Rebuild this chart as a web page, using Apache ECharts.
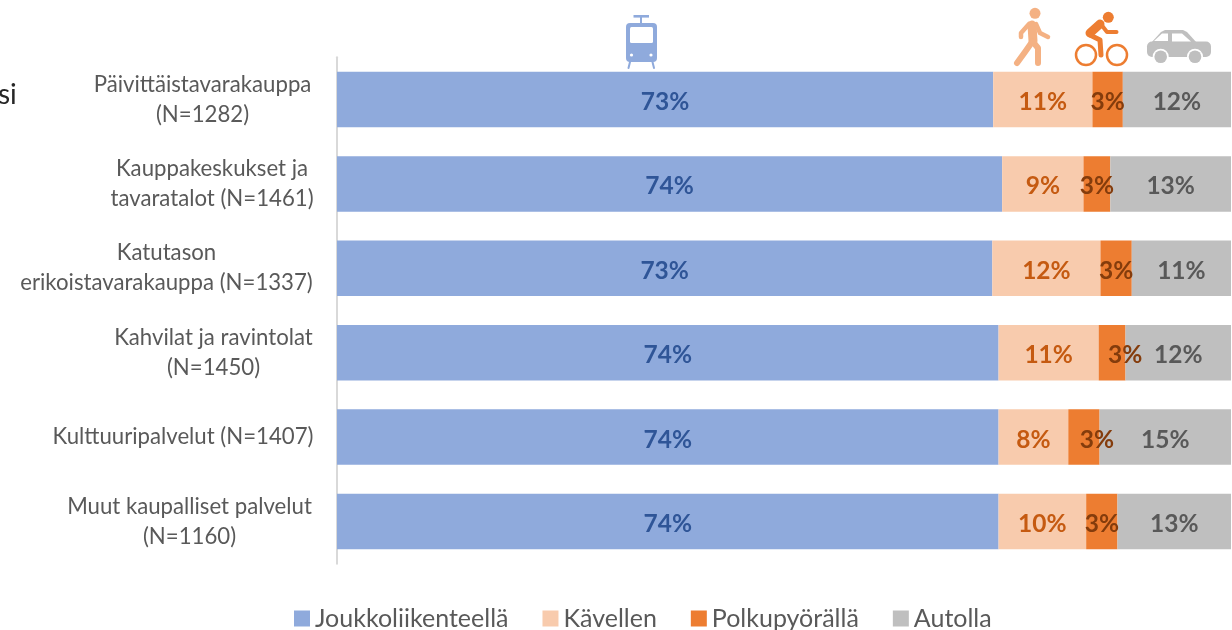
<!DOCTYPE html>
<html><head><meta charset="utf-8">
<style>html,body{margin:0;padding:0;background:#fff}#c{width:1232px;height:630px}</style>
<script src="https://cdn.jsdelivr.net/npm/echarts@6/dist/echarts.min.js"></script>
</head><body><div id="c"></div>
<script>
const categories = [
  "Päivittäistavarakauppa\n(N=1282)",
  "Kauppakeskukset ja\ntavaratalot (N=1461)",
  "Katutason\nerikoistavarakauppa (N=1337)",
  "Kahvilat ja ravintolat\n(N=1450)",
  "Kulttuuripalvelut (N=1407)",
  "Muut kaupalliset palvelut\n(N=1160)"
];
const seriesNames = ["Joukkoliikenteellä","Kävellen","Polkupyörällä","Autolla"];
const transit = [73.4,74.4,73.3,74.0,74.0,74.0];
const walking = [11.1,9.1,12.1,11.2,7.8,9.8];
const cycling = [3.4,3.0,3.5,3.0,3.5,3.5];
const driving = [12.1,13.5,11.1,11.8,14.7,12.7];
const transitLabels = ["73%","74%","73%","74%","74%","74%"];
const walkingLabels = ["11%","9%","12%","11%","8%","10%"];
const cyclingLabels = ["3%","3%","3%","3%","3%","3%"];
const drivingLabels = ["12%","13%","11%","12%","15%","13%"];

const FONT = "Lato";
const blockWidths = [221,202,293,199,260,247];
const rich = {};
blockWidths.forEach((w,i)=>{ rich['r'+i] = {width:w,align:'center',fontFamily:FONT,fontSize:22.2,lineHeight:30,color:'#595959'}; });

const cyclingOffsets = [0,0,0,13,13,0];
function mk(name,vals,labels,color,labelColor,offsets){
  return {
    name, type:'bar', stack:'t', barWidth:55.5, itemStyle:{color},
    data: vals.map((v,i)=>({
      value:v,
      label:{show:true,position:'inside',formatter:labels[i],color:labelColor,
             fontFamily:FONT,fontWeight:'bold',fontSize:24.5,
             offset:[offsets?offsets[i]:0,2.5]}
    }))
  };
}
const LW='#F4B183', OR='#ED7D31', GR='#BFBFBF', BL='#8FAADC';
function limb(points,color,w){return {type:'polyline',shape:{points},style:{stroke:color,lineWidth:w,fill:null,lineCap:'round',lineJoin:'round'}};}
const icons = [
  // tram
  {type:'rect',shape:{x:633.5,y:15,width:15.5,height:2.6},style:{fill:BL}},
  limb([[641,17],[641,23]],BL,2),
  {type:'rect',shape:{x:626,y:23,width:31,height:39,r:4},style:{fill:BL}},
  {type:'rect',shape:{x:630,y:27,width:23,height:16,r:1.5},style:{fill:'#fff'}},
  {type:'circle',shape:{cx:631.5,cy:55,r:1.6},style:{fill:'#fff'}},
  {type:'circle',shape:{cx:651,cy:55,r:1.6},style:{fill:'#fff'}},
  limb([[630,62],[628.5,68]],BL,2),
  limb([[652.5,62],[654,68]],BL,2),
  // walker
  {type:'circle',shape:{cx:1035,cy:13.3,r:5.5},style:{fill:LW}},
  limb([[1032,25],[1033,41]],LW,9),
  limb([[1032,42],[1025,52],[1017,63]],LW,6),
  limb([[1033,42],[1038,48],[1038,63]],LW,6),
  limb([[1029,24],[1021,33],[1021,37]],LW,4.5),
  limb([[1036,24],[1040,33],[1048,37]],LW,4.5),
  // cyclist
  {type:'circle',shape:{cx:1086,cy:55,r:10},style:{fill:'none',stroke:OR,lineWidth:2.5}},
  {type:'circle',shape:{cx:1117,cy:55,r:10},style:{fill:'none',stroke:OR,lineWidth:2.5}},
  {type:'circle',shape:{cx:1108.3,cy:17.3,r:5.5},style:{fill:OR}},
  limb([[1090,33],[1100,24]],OR,9),
  limb([[1100,23],[1107,32],[1116.5,32]],OR,4),
  limb([[1090,35],[1100,40],[1101,55]],OR,5),
  // car
  {type:'rect',shape:{x:1147,y:41.5,width:64,height:15.5,r:5},style:{fill:GR}},
  {type:'polygon',shape:{points:[[1151,43],[1161,32],[1165,30],[1183,30],[1187,32],[1197,43]]},style:{fill:GR}},
  {type:'polygon',shape:{points:[[1154,41],[1162,33.5],[1168,33.5],[1168,41]]},style:{fill:'#fff'}},
  {type:'polygon',shape:{points:[[1172,33.5],[1182,33.5],[1191,41.5],[1172,41.5]]},style:{fill:'#fff'}},
  {type:'circle',shape:{cx:1160.7,cy:56.7,r:8},style:{fill:'#fff'}},
  {type:'circle',shape:{cx:1160.7,cy:56.7,r:6.3},style:{fill:GR}},
  {type:'circle',shape:{cx:1195,cy:56.7,r:8},style:{fill:'#fff'}},
  {type:'circle',shape:{cx:1195,cy:56.7,r:6.3},style:{fill:GR}},
  // cut-off slide text on the left edge
  {type:'text',x:-2,y:95,style:{text:'si',fontFamily:FONT,fontSize:28,fill:'#262626',textVerticalAlign:'middle'}}
];

const chart = echarts.init(document.getElementById('c'),null,{renderer:'canvas'});
chart.setOption({
  animation:false,
  backgroundColor:'#fff',
  color:[BL,'#F8CBAD',OR,GR],
  grid:{left:337,right:1,top:57.3,bottom:66.3,containLabel:false},
  xAxis:{type:'value',min:0,max:100,show:false},
  yAxis:{type:'category',inverse:true,data:categories,offset:1,
    axisLine:{show:true,lineStyle:{color:'#D9D9D9',width:2}},
    axisTick:{show:false},
    axisLabel:{margin:23,align:'right',
      formatter:(v,i)=>v.split('\n').map(s=>'{r'+i+'|'+s+'}').join('\n'),rich}
  },
  legend:{left:289,top:601,itemWidth:16,itemHeight:16,itemGap:34,icon:'rect',
    textStyle:{fontFamily:FONT,fontSize:25,color:'#595959'},
    data:seriesNames},
  series:[
    mk(seriesNames[0],transit,transitLabels,BL,'#2F5597'),
    mk(seriesNames[1],walking,walkingLabels,'#F8CBAD','#C55A11'),
    mk(seriesNames[2],cycling,cyclingLabels,OR,'#843C0C',cyclingOffsets),
    mk(seriesNames[3],driving,drivingLabels,GR,'#595959')
  ],
  graphic:{elements:icons}
});
</script></body></html>
